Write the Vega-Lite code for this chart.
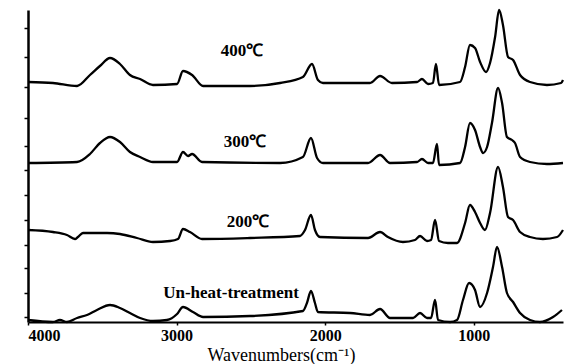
{
  "$schema": "https://vega.github.io/schema/vega-lite/v6.json",
  "width": 535,
  "height": 312,
  "autosize": "none",
  "padding": {"left": 28, "top": 10, "right": 10, "bottom": 42},
  "background": "white",
  "config": {"view": {"stroke": null}},
  "datasets": {
    "spectra": [
      {"s": "400", "wn": 4000, "y": 240}, {"s": "400", "wn": 3832, "y": 239}, {"s": "400", "wn": 3670, "y": 236}, {"s": "400", "wn": 3583, "y": 247}, {"s": "400", "wn": 3516, "y": 256}, {"s": "400", "wn": 3448, "y": 264}, {"s": "400", "wn": 3381, "y": 258}, {"s": "400", "wn": 3314, "y": 247}, {"s": "400", "wn": 3246, "y": 243}, {"s": "400", "wn": 3159, "y": 237}, {"s": "400", "wn": 2997, "y": 238}, {"s": "400", "wn": 2957, "y": 251}, {"s": "400", "wn": 2896, "y": 247}, {"s": "400", "wn": 2822, "y": 236}, {"s": "400", "wn": 2506, "y": 236}, {"s": "400", "wn": 2304, "y": 239}, {"s": "400", "wn": 2150, "y": 245}, {"s": "400", "wn": 2089, "y": 258}, {"s": "400", "wn": 2049, "y": 242}, {"s": "400", "wn": 2015, "y": 239}, {"s": "400", "wn": 1699, "y": 239}, {"s": "400", "wn": 1631, "y": 246}, {"s": "400", "wn": 1551, "y": 239}, {"s": "400", "wn": 1382, "y": 240}, {"s": "400", "wn": 1349, "y": 243}, {"s": "400", "wn": 1308, "y": 238}, {"s": "400", "wn": 1275, "y": 239}, {"s": "400", "wn": 1255, "y": 258}, {"s": "400", "wn": 1234, "y": 237}, {"s": "400", "wn": 1093, "y": 240}, {"s": "400", "wn": 1059, "y": 255}, {"s": "400", "wn": 1026, "y": 277}, {"s": "400", "wn": 992, "y": 274}, {"s": "400", "wn": 958, "y": 260}, {"s": "400", "wn": 918, "y": 250}, {"s": "400", "wn": 891, "y": 259}, {"s": "400", "wn": 857, "y": 285}, {"s": "400", "wn": 830, "y": 312}, {"s": "400", "wn": 804, "y": 297}, {"s": "400", "wn": 770, "y": 265}, {"s": "400", "wn": 736, "y": 262}, {"s": "400", "wn": 689, "y": 247}, {"s": "400", "wn": 622, "y": 240}, {"s": "400", "wn": 508, "y": 237}, {"s": "400", "wn": 413, "y": 239}, {"s": "400", "wn": 400, "y": 242},
      {"s": "300", "wn": 4000, "y": 159}, {"s": "300", "wn": 3670, "y": 160}, {"s": "300", "wn": 3583, "y": 168}, {"s": "300", "wn": 3516, "y": 179}, {"s": "300", "wn": 3448, "y": 185}, {"s": "300", "wn": 3381, "y": 180}, {"s": "300", "wn": 3314, "y": 170}, {"s": "300", "wn": 3246, "y": 165}, {"s": "300", "wn": 3159, "y": 160}, {"s": "300", "wn": 2997, "y": 160}, {"s": "300", "wn": 2957, "y": 170}, {"s": "300", "wn": 2923, "y": 166}, {"s": "300", "wn": 2896, "y": 168}, {"s": "300", "wn": 2829, "y": 160}, {"s": "300", "wn": 2304, "y": 159}, {"s": "300", "wn": 2150, "y": 165}, {"s": "300", "wn": 2096, "y": 184}, {"s": "300", "wn": 2055, "y": 164}, {"s": "300", "wn": 2015, "y": 159}, {"s": "300", "wn": 1712, "y": 159}, {"s": "300", "wn": 1631, "y": 167}, {"s": "300", "wn": 1564, "y": 159}, {"s": "300", "wn": 1382, "y": 160}, {"s": "300", "wn": 1349, "y": 163}, {"s": "300", "wn": 1308, "y": 159}, {"s": "300", "wn": 1275, "y": 159}, {"s": "300", "wn": 1248, "y": 178}, {"s": "300", "wn": 1234, "y": 157}, {"s": "300", "wn": 1093, "y": 159}, {"s": "300", "wn": 1059, "y": 175}, {"s": "300", "wn": 1026, "y": 199}, {"s": "300", "wn": 992, "y": 192}, {"s": "300", "wn": 958, "y": 175}, {"s": "300", "wn": 938, "y": 169}, {"s": "300", "wn": 911, "y": 175}, {"s": "300", "wn": 878, "y": 199}, {"s": "300", "wn": 837, "y": 234}, {"s": "300", "wn": 810, "y": 219}, {"s": "300", "wn": 777, "y": 185}, {"s": "300", "wn": 743, "y": 182}, {"s": "300", "wn": 723, "y": 179}, {"s": "300", "wn": 689, "y": 165}, {"s": "300", "wn": 622, "y": 160}, {"s": "300", "wn": 508, "y": 158}, {"s": "300", "wn": 400, "y": 159},
      {"s": "200", "wn": 4000, "y": 92}, {"s": "200", "wn": 3832, "y": 90}, {"s": "200", "wn": 3738, "y": 87}, {"s": "200", "wn": 3684, "y": 83}, {"s": "200", "wn": 3664, "y": 85}, {"s": "200", "wn": 3630, "y": 89}, {"s": "200", "wn": 3468, "y": 89}, {"s": "200", "wn": 3381, "y": 88}, {"s": "200", "wn": 3267, "y": 84}, {"s": "200", "wn": 3159, "y": 80}, {"s": "200", "wn": 3044, "y": 81}, {"s": "200", "wn": 2991, "y": 83}, {"s": "200", "wn": 2957, "y": 93}, {"s": "200", "wn": 2910, "y": 90}, {"s": "200", "wn": 2829, "y": 83}, {"s": "200", "wn": 2506, "y": 84}, {"s": "200", "wn": 2170, "y": 86}, {"s": "200", "wn": 2136, "y": 92}, {"s": "200", "wn": 2096, "y": 107}, {"s": "200", "wn": 2069, "y": 92}, {"s": "200", "wn": 2035, "y": 85}, {"s": "200", "wn": 1712, "y": 84}, {"s": "200", "wn": 1631, "y": 90}, {"s": "200", "wn": 1578, "y": 85}, {"s": "200", "wn": 1477, "y": 80}, {"s": "200", "wn": 1396, "y": 82}, {"s": "200", "wn": 1362, "y": 86}, {"s": "200", "wn": 1315, "y": 81}, {"s": "200", "wn": 1288, "y": 82}, {"s": "200", "wn": 1261, "y": 102}, {"s": "200", "wn": 1234, "y": 81}, {"s": "200", "wn": 1174, "y": 79}, {"s": "200", "wn": 1113, "y": 79}, {"s": "200", "wn": 1059, "y": 99}, {"s": "200", "wn": 1026, "y": 117}, {"s": "200", "wn": 992, "y": 110}, {"s": "200", "wn": 958, "y": 99}, {"s": "200", "wn": 925, "y": 92}, {"s": "200", "wn": 891, "y": 109}, {"s": "200", "wn": 837, "y": 155}, {"s": "200", "wn": 804, "y": 135}, {"s": "200", "wn": 770, "y": 105}, {"s": "200", "wn": 736, "y": 102}, {"s": "200", "wn": 689, "y": 90}, {"s": "200", "wn": 622, "y": 85}, {"s": "200", "wn": 535, "y": 83}, {"s": "200", "wn": 440, "y": 85}, {"s": "200", "wn": 400, "y": 92},
      {"s": "un", "wn": 4000, "y": 2}, {"s": "un", "wn": 3832, "y": 0}, {"s": "un", "wn": 3785, "y": 2}, {"s": "un", "wn": 3738, "y": 0}, {"s": "un", "wn": 3670, "y": 4}, {"s": "un", "wn": 3603, "y": 7}, {"s": "un", "wn": 3536, "y": 12}, {"s": "un", "wn": 3448, "y": 17}, {"s": "un", "wn": 3381, "y": 14}, {"s": "un", "wn": 3314, "y": 9}, {"s": "un", "wn": 3246, "y": 4}, {"s": "un", "wn": 3159, "y": 1}, {"s": "un", "wn": 3065, "y": 2}, {"s": "un", "wn": 2997, "y": 8}, {"s": "un", "wn": 2957, "y": 15}, {"s": "un", "wn": 2890, "y": 10}, {"s": "un", "wn": 2822, "y": 5}, {"s": "un", "wn": 2506, "y": 6}, {"s": "un", "wn": 2150, "y": 11}, {"s": "un", "wn": 2123, "y": 19}, {"s": "un", "wn": 2096, "y": 31}, {"s": "un", "wn": 2069, "y": 19}, {"s": "un", "wn": 2049, "y": 10}, {"s": "un", "wn": 1833, "y": 9}, {"s": "un", "wn": 1699, "y": 7}, {"s": "un", "wn": 1631, "y": 13}, {"s": "un", "wn": 1564, "y": 4}, {"s": "un", "wn": 1409, "y": 4}, {"s": "un", "wn": 1362, "y": 9}, {"s": "un", "wn": 1315, "y": 4}, {"s": "un", "wn": 1288, "y": 4}, {"s": "un", "wn": 1261, "y": 22}, {"s": "un", "wn": 1241, "y": 2}, {"s": "un", "wn": 1160, "y": 0}, {"s": "un", "wn": 1113, "y": 2}, {"s": "un", "wn": 1073, "y": 22}, {"s": "un", "wn": 1032, "y": 39}, {"s": "un", "wn": 992, "y": 32}, {"s": "un", "wn": 958, "y": 15}, {"s": "un", "wn": 911, "y": 29}, {"s": "un", "wn": 871, "y": 55}, {"s": "un", "wn": 844, "y": 75}, {"s": "un", "wn": 810, "y": 55}, {"s": "un", "wn": 777, "y": 29}, {"s": "un", "wn": 736, "y": 20}, {"s": "un", "wn": 689, "y": 9}, {"s": "un", "wn": 622, "y": 2}, {"s": "un", "wn": 555, "y": 0}, {"s": "un", "wn": 467, "y": 5}, {"s": "un", "wn": 407, "y": 12}
    ],
    "labels": [
      {"label": "400℃", "wn": 2560, "y": 271},
      {"label": "300℃", "wn": 2540, "y": 180},
      {"label": "200℃", "wn": 2520, "y": 100},
      {"label": "Un-heat-treatment", "wn": 2634, "y": 29}
    ]
  },
  "encoding": {
    "x": {
      "field": "wn", "type": "quantitative",
      "scale": {"domain": [400, 4000], "reverse": true, "nice": false, "zero": false},
      "axis": {
        "values": [1000, 2000, 3000, 4000], "grid": false, "format": "d",
        "domainColor": "black", "domainWidth": 2, "tickColor": "black", "tickSize": 3, "tickWidth": 1.5,
        "labelFont": "Liberation Serif", "labelFontSize": 16, "labelFontWeight": "bold", "labelColor": "black", "labelPadding": 2,
        "title": "Wavenumbers(cm⁻¹)", "titleFont": "Liberation Serif", "titleFontSize": 18, "titleFontWeight": "normal", "titleColor": "black",
        "titleX": 253, "titleY": 33, "titleBaseline": "middle"
      }
    },
    "y": {
      "field": "y", "type": "quantitative",
      "scale": {"domain": [0, 312], "nice": false, "zero": false},
      "axis": {
        "values": [5, 29, 54, 77, 102, 127, 152, 176, 204, 235, 265, 294], "grid": false, "labels": false, "title": null,
        "domainColor": "black", "domainWidth": 2.5, "tickColor": "black", "tickSize": 4, "tickWidth": 1.5
      }
    }
  },
  "layer": [
    {
      "data": {"name": "spectra"},
      "mark": {"type": "line", "color": "black", "strokeWidth": 2.3, "strokeJoin": "round", "interpolate": "monotone", "clip": false},
      "encoding": {"detail": {"field": "s"}}
    },
    {
      "data": {"name": "labels"},
      "mark": {"type": "text", "font": "Liberation Serif", "fontSize": 17, "fontWeight": "bold", "color": "black", "align": "center", "baseline": "middle"},
      "encoding": {"text": {"field": "label"}}
    }
  ]
}
